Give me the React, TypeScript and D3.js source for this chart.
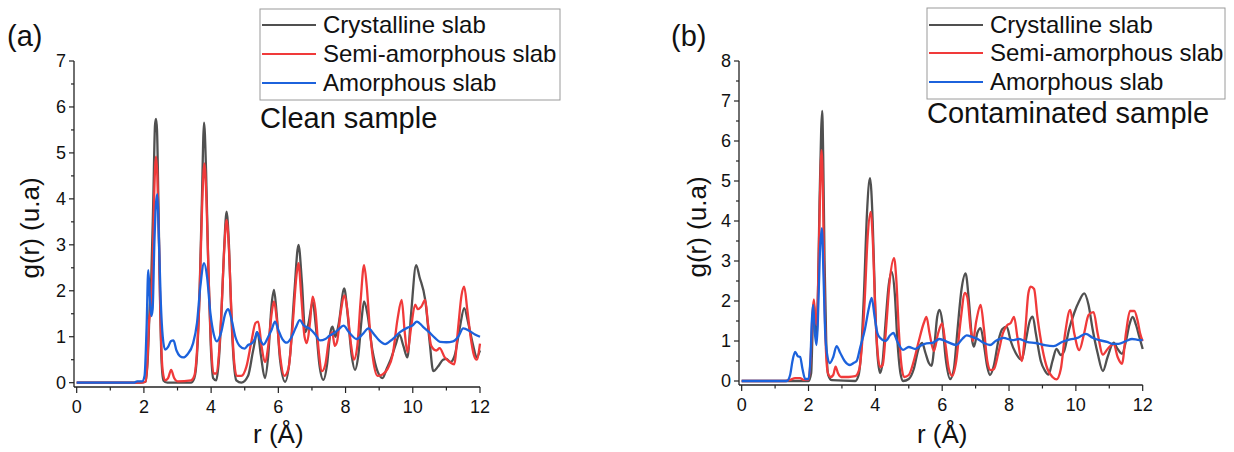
import React from "react";
import * as d3 from "d3";

type P = [number, number];

const seriesNames = ["Crystalline slab", "Semi-amorphous slab", "Amorphous slab"];
const seriesColors = ["#505050", "#f03a3a", "#1c62dc"];
const xTicks = [0, 2, 4, 6, 8, 10, 12];
const yTicksA = [0, 1, 2, 3, 4, 5, 6, 7];
const yTicksB = [0, 1, 2, 3, 4, 5, 6, 7, 8];
const sampleLabels = ["Clean sample", "Contaminated sample"];
const panelLabels = ["(a)", "(b)"];

const crystallineA: P[] = [[0,0],[1.9,0],[2.05,0.02],[2.12,0.6],[2.18,1.8],[2.22,2.3],[2.28,4.0],[2.33,5.6],[2.36,5.74],[2.39,5.5],[2.43,4.0],[2.48,1.8],[2.53,0.4],[2.58,0.05],[2.7,0],[3.4,0],[3.5,0.1],[3.58,0.6],[3.65,1.8],[3.72,3.8],[3.79,5.66],[3.85,4.6],[3.92,2.4],[3.99,0.8],[4.06,0.1],[4.15,0.05],[4.22,0.4],[4.3,1.4],[4.38,2.8],[4.46,3.72],[4.53,3.0],[4.6,1.5],[4.68,0.4],[4.75,0.05],[4.9,0.0],[5.1,0.15],[5.25,0.7],[5.38,1.1],[5.48,0.6],[5.6,0.1],[5.7,0.6],[5.8,1.7],[5.87,2.02],[5.95,1.5],[6.05,0.5],[6.2,0.02],[6.35,0.6],[6.48,2.0],[6.6,3.0],[6.7,2.2],[6.8,1.1],[6.9,1.3],[7.02,1.76],[7.12,1.2],[7.22,0.4],[7.34,0.06],[7.45,0.4],[7.55,1.1],[7.61,1.22],[7.7,1.0],[7.8,1.3],[7.96,2.05],[8.06,1.5],[8.18,0.6],[8.28,0.28],[8.38,0.6],[8.48,1.4],[8.55,1.77],[8.65,1.5],[8.8,0.7],[8.95,0.25],[9.1,0.1],[9.22,0.3],[9.34,0.5],[9.5,0.85],[9.6,1.05],[9.72,0.8],[9.84,0.55],[9.95,1.5],[10.1,2.56],[10.2,2.3],[10.37,1.8],[10.5,0.9],[10.61,0.25],[10.75,0.35],[10.9,0.5],[11.0,0.52],[11.12,0.45],[11.25,0.6],[11.4,1.2],[11.53,1.62],[11.65,1.3],[11.8,0.8],[11.9,0.55],[12,0.7]];

const semiA: P[] = [[0,0],[1.9,0],[2.05,0.02],[2.1,0.4],[2.15,1.3],[2.2,1.6],[2.26,2.6],[2.31,4.2],[2.36,4.92],[2.4,4.5],[2.45,3.0],[2.5,1.2],[2.56,0.25],[2.63,0.05],[2.72,0.1],[2.81,0.28],[2.9,0.1],[3.0,0.03],[3.4,0.05],[3.5,0.15],[3.58,0.7],[3.66,2.0],[3.73,3.8],[3.8,4.77],[3.86,4.0],[3.93,2.2],[4.0,0.8],[4.07,0.2],[4.15,0.2],[4.23,0.6],[4.31,1.6],[4.39,2.9],[4.46,3.54],[4.53,2.9],[4.6,1.6],[4.68,0.5],[4.76,0.15],[4.9,0.15],[5.05,0.35],[5.2,0.9],[5.32,1.3],[5.4,1.33],[5.5,0.8],[5.6,0.45],[5.7,0.8],[5.8,1.5],[5.87,1.77],[5.95,1.4],[6.05,0.6],[6.18,0.15],[6.3,0.3],[6.42,1.2],[6.55,2.4],[6.6,2.6],[6.68,1.9],[6.78,1.0],[6.85,0.86],[6.94,1.3],[7.02,1.87],[7.1,1.6],[7.2,0.7],[7.3,0.25],[7.4,0.4],[7.5,0.9],[7.6,1.1],[7.68,0.8],[7.75,0.9],[7.85,1.5],[7.97,1.9],[8.05,1.6],[8.15,0.9],[8.25,0.5],[8.35,0.8],[8.45,1.8],[8.55,2.56],[8.63,2.1],[8.72,1.2],[8.82,0.5],[8.95,0.15],[9.1,0.18],[9.25,0.3],[9.4,0.6],[9.55,1.4],[9.67,1.8],[9.76,1.1],[9.84,0.66],[9.95,1.2],[10.07,1.7],[10.15,1.6],[10.25,1.65],[10.37,1.8],[10.45,1.3],[10.55,0.8],[10.7,0.7],[10.8,0.75],[10.95,0.55],[11.1,0.45],[11.23,0.4],[11.35,1.2],[11.45,1.9],[11.53,2.09],[11.62,1.6],[11.72,1.0],[11.82,0.6],[11.9,0.5],[12,0.85]];

const amorphousA: P[] = [[0,0],[1.7,0],[1.8,0.03],[1.95,0.03],[2.02,0.15],[2.08,1.2],[2.13,2.45],[2.18,1.8],[2.22,1.45],[2.26,1.6],[2.31,3.0],[2.36,3.9],[2.4,4.1],[2.44,3.3],[2.5,1.8],[2.56,1.0],[2.63,0.72],[2.72,0.78],[2.8,0.9],[2.88,0.92],[2.97,0.7],[3.07,0.58],[3.17,0.55],[3.3,0.62],[3.46,0.85],[3.58,1.3],[3.68,2.1],[3.79,2.6],[3.88,2.3],[3.98,1.5],[4.08,1.05],[4.17,0.9],[4.3,1.1],[4.42,1.5],[4.51,1.6],[4.6,1.4],[4.72,1.0],[4.85,0.8],[5.0,0.74],[5.1,0.82],[5.2,0.85],[5.3,0.95],[5.36,1.1],[5.45,0.95],[5.56,0.83],[5.7,1.0],[5.8,1.15],[5.9,1.33],[6.0,1.15],[6.12,0.95],[6.25,0.87],[6.4,1.0],[6.52,1.2],[6.64,1.36],[6.75,1.25],[6.94,1.17],[7.1,1.05],[7.24,0.92],[7.4,0.95],[7.52,1.02],[7.64,1.07],[7.78,1.15],[7.94,1.24],[8.1,1.1],[8.33,0.95],[8.5,1.05],[8.68,1.18],[8.85,1.05],[9.0,0.92],[9.18,0.84],[9.4,0.95],[9.62,1.1],[9.85,1.2],[10.0,1.25],[10.12,1.33],[10.3,1.22],[10.47,1.11],[10.65,0.98],[10.81,0.89],[11.0,0.88],[11.2,0.9],[11.35,1.0],[11.5,1.18],[11.7,1.12],[11.85,1.05],[12,1.0]];

const crystallineB: P[] = [[0,0],[2.0,0],[2.08,0.2],[2.12,1.2],[2.16,1.94],[2.2,1.5],[2.24,1.1],[2.28,2.0],[2.33,4.5],[2.38,6.3],[2.41,6.75],[2.44,5.6],[2.48,3.0],[2.53,1.0],[2.59,0.15],[2.7,0.02],[3.4,0],[3.5,0.15],[3.58,0.8],[3.66,2.2],[3.75,4.2],[3.84,5.07],[3.92,4.0],[3.99,2.0],[4.06,0.7],[4.14,0.2],[4.22,0.5],[4.3,1.4],[4.4,2.4],[4.49,2.73],[4.58,2.2],[4.66,1.0],[4.75,0.2],[4.83,0.0],[5.0,0.05],[5.15,0.3],[5.29,0.8],[5.4,0.95],[5.5,0.7],[5.6,0.45],[5.68,0.38],[5.78,1.0],[5.85,1.6],[5.92,1.78],[6.0,1.5],[6.1,0.6],[6.24,0.05],[6.35,0.3],[6.45,1.2],[6.58,2.3],[6.7,2.69],[6.8,2.0],[6.9,1.0],[6.95,0.86],[7.05,1.2],[7.15,1.32],[7.25,0.9],[7.35,0.35],[7.43,0.15],[7.55,0.4],[7.68,1.0],[7.8,1.3],[7.93,1.36],[8.05,1.0],[8.2,0.7],[8.38,0.53],[8.5,1.0],[8.62,1.5],[8.71,1.61],[8.8,1.2],[8.95,0.5],[9.08,0.25],[9.18,0.16],[9.3,0.5],[9.42,0.8],[9.55,0.65],[9.65,0.75],[9.8,1.3],[9.95,1.7],[10.1,2.0],[10.25,2.19],[10.38,1.9],[10.5,1.3],[10.65,0.7],[10.81,0.25],[10.95,0.6],[11.13,0.96],[11.25,0.8],[11.38,0.68],[11.5,1.0],[11.6,1.4],[11.7,1.6],[11.8,1.4],[11.9,1.1],[12,0.8]];

const semiB: P[] = [[0,0],[1.3,0],[1.45,0.03],[1.6,0.07],[1.75,0.07],[1.85,0.03],[2.0,0.03],[2.06,0.5],[2.12,1.7],[2.16,2.04],[2.2,1.6],[2.24,1.4],[2.29,2.5],[2.34,4.5],[2.39,5.77],[2.43,4.8],[2.47,2.5],[2.52,0.8],[2.58,0.2],[2.66,0.1],[2.74,0.15],[2.81,0.36],[2.88,0.2],[2.98,0.1],[3.2,0.1],[3.4,0.12],[3.52,0.3],[3.6,0.9],[3.68,2.0],[3.77,3.6],[3.86,4.23],[3.93,3.4],[4.0,1.7],[4.07,0.7],[4.14,0.35],[4.22,0.4],[4.32,1.3],[4.43,2.5],[4.56,3.07],[4.63,2.5],[4.7,1.3],[4.78,0.4],[4.86,0.1],[5.0,0.15],[5.15,0.5],[5.3,1.0],[5.45,1.45],[5.53,1.6],[5.62,1.2],[5.75,0.75],[5.88,1.2],[6.0,1.44],[6.1,0.9],[6.2,0.3],[6.3,0.13],[6.42,0.5],[6.55,1.5],[6.68,2.2],[6.75,2.1],[6.85,1.3],[6.92,1.0],[7.02,1.5],[7.15,1.9],[7.25,1.3],[7.35,0.5],[7.45,0.27],[7.55,0.3],[7.68,0.7],[7.82,1.2],[7.95,1.4],[8.05,1.45],[8.15,1.6],[8.25,1.1],[8.38,0.5],[8.48,1.2],[8.58,2.2],[8.65,2.36],[8.75,2.3],[8.85,1.6],[9.0,0.8],[9.15,0.3],[9.3,0.1],[9.42,0.04],[9.55,0.3],[9.68,1.2],[9.83,1.78],[9.95,1.2],[10.1,0.77],[10.25,1.2],[10.38,1.65],[10.53,1.72],[10.65,1.2],[10.81,0.66],[10.95,0.8],[11.13,0.93],[11.25,0.6],[11.38,0.43],[11.5,1.2],[11.62,1.75],[11.75,1.75],[11.85,1.5],[11.92,1.2],[12,1.0]];

const amorphousB: P[] = [[0,0],[1.35,0],[1.45,0.15],[1.52,0.5],[1.6,0.73],[1.68,0.62],[1.75,0.6],[1.82,0.3],[1.9,0.05],[2.0,0.05],[2.06,0.6],[2.1,1.5],[2.14,1.9],[2.18,1.3],[2.24,0.9],[2.28,1.5],[2.34,3.2],[2.4,3.82],[2.45,2.6],[2.5,1.2],[2.55,0.7],[2.64,0.45],[2.74,0.6],[2.84,0.87],[2.95,0.7],[3.08,0.5],[3.24,0.4],[3.35,0.45],[3.44,0.5],[3.55,0.85],[3.69,1.3],[3.8,1.8],[3.89,2.08],[3.98,1.6],[4.06,1.2],[4.14,1.08],[4.3,1.0],[4.45,1.15],[4.54,1.2],[4.65,1.0],[4.83,0.78],[5.0,0.85],[5.2,0.8],[5.35,0.88],[5.53,0.94],[5.7,0.95],[5.92,1.05],[6.15,0.98],[6.42,0.9],[6.6,1.05],[6.73,1.14],[6.9,1.1],[7.04,1.06],[7.25,0.95],[7.43,0.9],[7.6,1.0],[7.83,1.08],[8.1,1.02],[8.3,1.05],[8.53,0.98],[8.8,0.95],[9.05,0.9],[9.33,0.87],[9.6,0.98],[9.83,1.04],[10.05,1.08],[10.3,1.18],[10.5,1.08],[10.7,1.02],[10.93,0.98],[11.1,0.93],[11.28,0.93],[11.5,1.0],[11.68,1.05],[11.85,1.03],[12,1.02]];

const FONT = "'Liberation Sans', Arial, Helvetica, sans-serif";

interface PanelProps {
  series: P[][];
  yTicks: number[];
  xRange: [number, number];
  yRange: [number, number];
  yDomain: [number, number];
  panelLabel: string;
  panelLabelX: number;
  yTitleX: number;
  legendBox: { x: number; y: number; w: number; h: number };
  legendRows: number[];
  sample: string;
  sampleY: number;
}

function Panel(p: PanelProps) {
  const x = d3.scaleLinear().domain([-0.08, 12]).range(p.xRange);
  const y = d3.scaleLinear().domain(p.yDomain).range(p.yRange);
  const line = d3
    .line<P>()
    .x((d) => x(d[0]))
    .y((d) => y(d[1]))
    .curve(d3.curveMonotoneX);
  const x0 = p.xRange[0];
  const yb = p.yRange[0];
  const yTop = y(p.yTicks[p.yTicks.length - 1]);
  const minorX = d3.range(1, 12, 2);
  const minorY = p.yTicks.slice(0, -1).map((v) => v + 0.5);
  const lx = p.legendBox.x;
  return (
    <g fontFamily={FONT}>
      {p.series.map((s, i) => (
        <path key={i} d={line(s) || ""} fill="none" stroke={seriesColors[i]} strokeWidth={2.3} strokeLinejoin="round" />
      ))}
      <line x1={x0} x2={p.xRange[1]} y1={yb} y2={yb} stroke="#222" strokeWidth={1.3} />
      <line x1={x0} x2={x0} y1={yb} y2={yTop} stroke="#222" strokeWidth={1.3} />
      {xTicks.map((t) => (
        <g key={"xt" + t}>
          <line x1={x(t)} x2={x(t)} y1={yb} y2={yb + 6} stroke="#222" strokeWidth={1.2} />
          <text x={x(t)} y={yb + 26} fontSize={18} textAnchor="middle" fill="#111">{t}</text>
        </g>
      ))}
      {minorX.map((t) => (
        <line key={"xm" + t} x1={x(t)} x2={x(t)} y1={yb} y2={yb + 3.5} stroke="#222" strokeWidth={1.2} />
      ))}
      {p.yTicks.map((t) => (
        <g key={"yt" + t}>
          <line x1={x0} x2={x0 - 5} y1={y(t)} y2={y(t)} stroke="#222" strokeWidth={1.2} />
          <text x={x0 - 8} y={y(t)} dy="0.35em" fontSize={18} textAnchor="end" fill="#111">{t}</text>
        </g>
      ))}
      {minorY.map((t) => (
        <line key={"ym" + t} x1={x0} x2={x0 - 3} y1={y(t)} y2={y(t)} stroke="#222" strokeWidth={1.2} />
      ))}
      <text x={(x(0) + x(12)) / 2} y={443} fontSize={26} textAnchor="middle" fill="#111">r (Å)</text>
      <text transform={`translate(${p.yTitleX},${(yb + yTop) / 2 + 4}) rotate(-90)`} fontSize={26} textAnchor="middle" fill="#111">g(r) (u.a)</text>
      <text x={p.panelLabelX} y={46} fontSize={29} fill="#111">{p.panelLabel}</text>
      <rect x={lx} y={p.legendBox.y} width={p.legendBox.w} height={p.legendBox.h} fill="white" stroke="#9a9a9a" strokeWidth={1} />
      {seriesNames.map((n, i) => (
        <g key={n}>
          <line x1={lx + 2} x2={lx + 56} y1={p.legendRows[i]} y2={p.legendRows[i]} stroke={seriesColors[i]} strokeWidth={2} />
          <text x={lx + 63} y={p.legendRows[i]} dy="0.35em" fontSize={24} fill="#111">{n}</text>
        </g>
      ))}
      <text x={lx} y={p.sampleY} fontSize={29} fill="#111">{p.sample}</text>
    </g>
  );
}

export default function App() {
  return (
    <svg width={1234} height={452} style={{ position: "absolute", left: 0, top: 0, background: "white" }}>
      <rect width={1234} height={452} fill="white" />
      <Panel
        series={[crystallineA, semiA, amorphousA]}
        yTicks={yTicksA}
        xRange={[74, 480]}
        yRange={[387, 61]}
        yDomain={[-0.094, 7]}
        panelLabel={panelLabels[0]}
        panelLabelX={7}
        yTitleX={39}
        legendBox={{ x: 260, y: 9, w: 300, h: 91 }}
        legendRows={[25, 54, 83]}
        sample={sampleLabels[0]}
        sampleY={128}
      />
      <Panel
        series={[crystallineB, semiB, amorphousB]}
        yTicks={yTicksB}
        xRange={[739, 1142.7]}
        yRange={[385, 61]}
        yDomain={[-0.1, 8]}
        panelLabel={panelLabels[1]}
        panelLabelX={671}
        yTitleX={706}
        legendBox={{ x: 927, y: 8, w: 298, h: 91 }}
        legendRows={[25, 53, 82]}
        sample={sampleLabels[1]}
        sampleY={123}
      />
    </svg>
  );
}
